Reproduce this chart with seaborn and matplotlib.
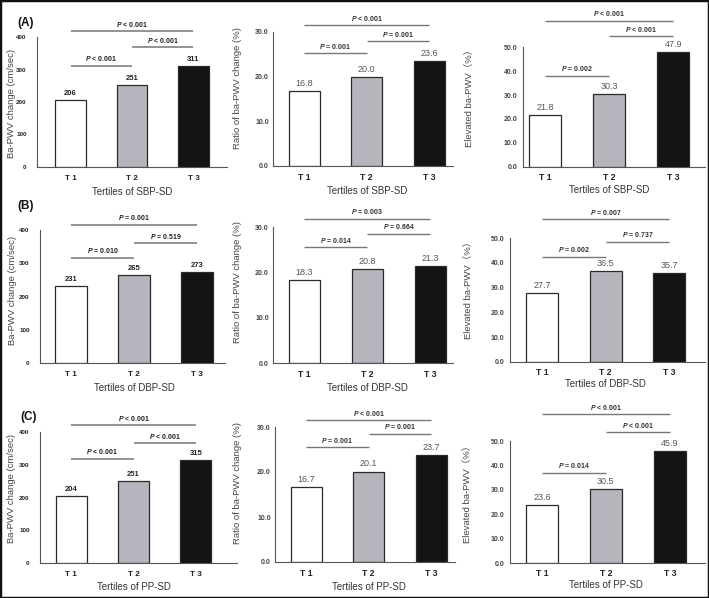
import matplotlib
matplotlib.use("Agg")
import matplotlib.pyplot as plt
import seaborn as sns
import pandas as pd
from matplotlib.patches import Rectangle

# ---------------- data ----------------
categories = ["T 1", "T 2", "T 3"]

sbp_change = [206, 251, 311]
sbp_ratio = [16.8, 20.0, 23.6]
sbp_elevated = [21.8, 30.3, 47.9]

dbp_change = [231, 265, 273]
dbp_ratio = [18.3, 20.8, 21.3]
dbp_elevated = [27.7, 36.5, 35.7]

pp_change = [204, 251, 315]
pp_ratio = [16.7, 20.1, 23.7]
pp_elevated = [23.6, 30.5, 45.9]

# p-values for (T1 vs T2, T2 vs T3, T1 vs T3)
sbp_change_p = ["< 0.001", "< 0.001", "< 0.001"]
sbp_ratio_p = ["= 0.001", "= 0.001", "< 0.001"]
sbp_elevated_p = ["= 0.002", "< 0.001", "< 0.001"]
dbp_change_p = ["= 0.010", "= 0.519", "= 0.001"]
dbp_ratio_p = ["= 0.014", "= 0.664", "= 0.003"]
dbp_elevated_p = ["= 0.002", "= 0.737", "= 0.007"]
pp_change_p = ["< 0.001", "< 0.001", "< 0.001"]
pp_ratio_p = ["= 0.001", "= 0.001", "< 0.001"]
pp_elevated_p = ["= 0.014", "< 0.001", "< 0.001"]

ylabels = ["Ba-PWV change (cm/sec)", "Ratio of ba-PWV change (%)", "Elevated ba-PWV（%）"]
xlabels = ["Tertiles of SBP-SD", "Tertiles of DBP-SD", "Tertiles of PP-SD"]
row_tags = ["(A)", "(B)", "(C)"]

# ---------------- style ----------------
sns.set_theme(style="white")
plt.rcParams['font.family'] = ['Liberation Sans', 'Noto Sans CJK SC', 'DejaVu Sans']
plt.rcParams['mathtext.fontset'] = 'custom'
plt.rcParams['mathtext.rm'] = 'Liberation Sans:bold'
plt.rcParams['mathtext.it'] = 'Liberation Sans:italic:bold'
plt.rcParams['mathtext.bf'] = 'Liberation Sans:bold'
plt.rcParams['mathtext.bfit'] = 'Liberation Sans:italic:bold'

bar_colors = ["#ffffff", "#b5b5bd", "#141414"]

W, H = 709, 598
fig = plt.figure(figsize=(W / 100, H / 100), dpi=100)
fig.patch.set_facecolor("white")


def fx(px):
    return px / W


def fy(py):
    return 1 - py / H


# layout per panel: rect (x0, x1, ytop, ybot) in pixels, xlim, bracket fractions,
# ylabel centre (px), xlabel offset below axis (px)
panels = [
    # row A
    dict(vals=sbp_change, p=sbp_change_p, kind=0, rect=(37, 227, 37, 167), xlim=(-0.545, 2.545),
         br=(0.78, 0.92, 1.045), ylab=(12, 103), xoff=25),
    dict(vals=sbp_ratio, p=sbp_ratio_p, kind=1, rect=(273, 453, 32, 166), xlim=(-0.5, 2.38),
         br=(0.84, 0.93, 1.05), ylab=(237, 88), xoff=25),
    dict(vals=sbp_elevated, p=sbp_elevated_p, kind=2, rect=(523, 705, 47, 167), xlim=(-0.35, 2.5),
         br=(0.76, 1.09, 1.22), ylab=(469, 96), xoff=23),
    # row B
    dict(vals=dbp_change, p=dbp_change_p, kind=0, rect=(40, 225, 230, 363), xlim=(-0.49, 2.44),
         br=(0.79, 0.90, 1.04), ylab=(13, 290), xoff=25),
    dict(vals=dbp_ratio, p=dbp_ratio_p, kind=1, rect=(273, 453, 227, 363), xlim=(-0.5, 2.36),
         br=(0.85, 0.95, 1.06), ylab=(237, 282), xoff=25),
    dict(vals=dbp_elevated, p=dbp_elevated_p, kind=2, rect=(510, 705, 238, 362), xlim=(-0.5, 2.56),
         br=(0.85, 0.97, 1.15), ylab=(468, 288), xoff=22),
    # row C
    dict(vals=pp_change, p=pp_change_p, kind=0, rect=(40, 237, 432, 563), xlim=(-0.5, 2.66),
         br=(0.795, 0.915, 1.05), ylab=(12, 488), xoff=24),
    dict(vals=pp_ratio, p=pp_ratio_p, kind=1, rect=(275, 455, 427, 562), xlim=(-0.5, 2.38),
         br=(0.85, 0.95, 1.05), ylab=(237, 483), xoff=25),
    dict(vals=pp_elevated, p=pp_elevated_p, kind=2, rect=(510, 705, 441, 563), xlim=(-0.5, 2.55),
         br=(0.74, 1.07, 1.22), ylab=(467, 492), xoff=22),
]

kind_ylim = [400, 30, 50]
kind_ticks = [[0, 100, 200, 300, 400], [0, 10, 20, 30], [0, 10, 20, 30, 40, 50]]
kind_xpad = [5.5, 4.8, 4.0]
pairs = [(0, 1), (1, 2), (0, 2)]

for idx, pnl in enumerate(panels):
    row = idx // 3
    kind = pnl["kind"]
    x0, x1, yt, yb = pnl["rect"]
    ax = fig.add_axes([fx(x0), fy(yb), (x1 - x0) / W, (yb - yt) / H])
    df = pd.DataFrame({"tertile": categories, "value": pnl["vals"]})
    sns.barplot(data=df, x="tertile", y="value", hue="tertile", palette=bar_colors,
                legend=False, width=0.5, saturation=1, edgecolor="#2a2a2a",
                linewidth=0.9, ax=ax)
    ax.set_xlim(*pnl["xlim"])
    ax.set_ylim(0, kind_ylim[kind])
    ax.set_yticks(kind_ticks[kind])
    sns.despine(ax=ax)
    for s in ("left", "bottom"):
        ax.spines[s].set_color("#555555")
        ax.spines[s].set_linewidth(0.8)

    if kind == 0:
        ax.set_yticklabels([f"{t:d}" for t in kind_ticks[kind]], fontsize=4.5,
                           fontweight="bold", color="#222222")
        ax.tick_params(axis="y", length=2.5, width=0.6, color="#555555", pad=5)
        val_kw = dict(fontsize=5.5, fontweight="bold", color="#222222")
        fmt = "{:.0f}"
        tcol = "#222222"
        lcol = "#8a8a8a"
        lw = 1.3
        xsize = 5.9
    else:
        ax.set_yticklabels([f"{t:.1f}" for t in kind_ticks[kind]], fontsize=5,
                           fontweight="bold", color="#444444")
        ax.tick_params(axis="y", length=2.5, width=0.6, color="#555555",
                       pad=0.5 if kind == 1 else 1.5)
        val_kw = dict(fontsize=6.5, color="#555555")
        fmt = "{:.1f}"
        tcol = "#333333"
        lcol = "#777777"
        lw = 1.0
        xsize = 6.2

    ax.tick_params(axis="x", length=0, pad=kind_xpad[kind], labelsize=xsize,
                   labelcolor="#222222")
    for lab in ax.get_xticklabels():
        lab.set_fontweight("bold")

    # value labels
    for i, v in enumerate(pnl["vals"]):
        ax.annotate(fmt.format(v), (i, v), xytext=(0, 2.2), textcoords="offset points",
                    ha="center", va="bottom", **val_kw)

    # significance brackets
    top = kind_ylim[kind]
    for (i, j), ptxt, frac in zip(pairs, pnl["p"], pnl["br"]):
        yv = frac * top
        ax.plot([i, j], [yv, yv], color=lcol, lw=lw, clip_on=False, solid_capstyle="butt")
        ax.annotate(r"$\mathbfit{P}$ " + ptxt, ((i + j) / 2, yv), xytext=(0, 5),
                    textcoords="offset points", ha="center", va="center",
                    fontsize=5, fontweight="bold", color=tcol, annotation_clip=False)

    # axis labels
    ax.set_ylabel(ylabels[kind], fontsize=6.8, color="#444444")
    ax.yaxis.set_label_coords(fx(pnl["ylab"][0]), fy(pnl["ylab"][1]), transform=fig.transFigure)
    ax.yaxis.label.set_va("center")
    ax.set_xlabel(xlabels[row], fontsize=7, color="#333333")
    xc_frac = (1 - pnl["xlim"][0]) / (pnl["xlim"][1] - pnl["xlim"][0])
    xc_px = x0 + xc_frac * (x1 - x0)
    ax.xaxis.set_label_coords(fx(xc_px), fy(yb + pnl["xoff"]), transform=fig.transFigure)
    ax.xaxis.label.set_va("center")

# row tags
for tag, (tx, ty) in zip(row_tags, [(26, 23), (26, 206), (29, 417)]):
    fig.text(fx(tx), fy(ty), tag, ha="center", va="center", fontsize=8.5,
             fontweight="bold", color="#111111")

# outer frame
fig.patches.append(Rectangle((0, 0), 1, 1, transform=fig.transFigure, fill=False,
                             edgecolor="#111111", linewidth=2.5))

fig.savefig("out.png", dpi=100)
